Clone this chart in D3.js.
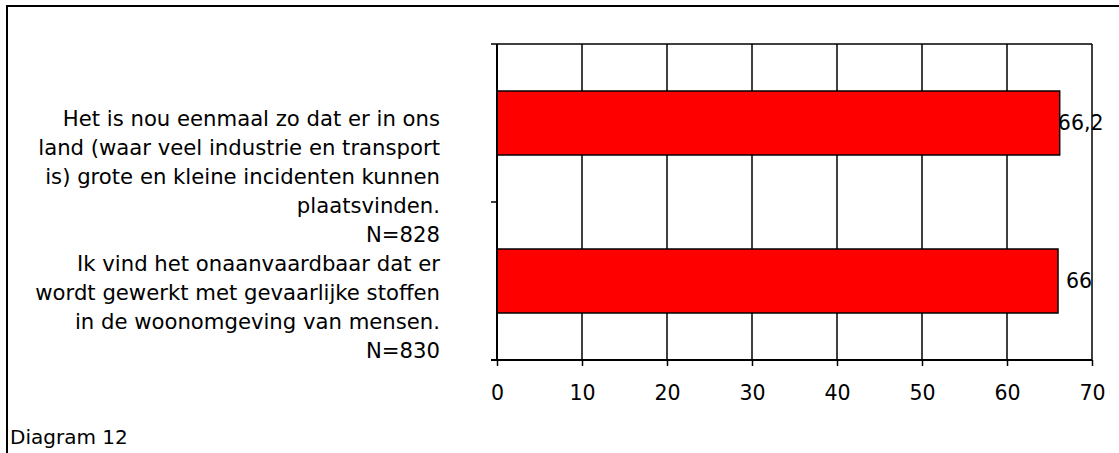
<!DOCTYPE html>
<html>
<head>
<meta charset="utf-8">
<script src="https://cdn.jsdelivr.net/npm/d3@7"></script>
<style>
    body { margin: 0; background: #fff; }
    svg { display: block; }
    text { font-family: "DejaVu Sans", Verdana, sans-serif; fill: #000; }
</style>
</head>
<body>
<svg id="svg" width="1119" height="453"></svg>
<script>
// categories, wrapped the way they appear next to the bars
var categories = ["stelling1", "stelling2"];
var category_lines = [
    ["Het is nou eenmaal zo dat er in ons",
     "land (waar veel industrie en transport",
     "is) grote en kleine incidenten kunnen",
     "plaatsvinden.",
     "N=828"],
    ["Ik vind het onaanvaardbaar dat er",
     "wordt gewerkt met gevaarlijke stoffen",
     "in de woonomgeving van mensen.",
     "N=830"]
];
var values = [66.2, 66];
var x_ticks = [0, 10, 20, 30, 40, 50, 60, 70];
var caption = "Diagram 12";

// dutch number format: comma as decimal separator
var nl = d3.formatLocale({decimal: ",", thousands: ".", grouping: [3], currency: ["€", ""]});
var fmt = nl.format("~g");

var font_size = "20.5px";

/**
 * draws the horizontal bar chart into the svg
 */
function draw_chart() {
    var svg = d3.select("svg"),
        margin = {top: 44, left: 497, right: 27, bottom: 93},
        width = +svg.attr("width") - margin.left - margin.right,
        height = +svg.attr("height") - margin.top - margin.bottom;

    // outer frame (right and bottom edges fall outside the picture)
    svg.append("path")
        .attr("d", "M7,460V6H1125")
        .attr("fill", "none")
        .attr("stroke", "#000")
        .attr("stroke-width", 2);

    var g = svg.append("g").attr("transform", "translate(" + margin.left + "," + margin.top + ")");

    var x = d3.scaleLinear()
        .domain([0, 70])
        .range([0, width]);

    var p = 0.595;
    var y = d3.scaleBand()
        .domain(categories)
        .range([0, height])
        .paddingInner(p)
        .paddingOuter(p / 2);

    // vertical grid lines
    g.selectAll(".grid")
        .data(x_ticks)
        .enter().append("line")
        .attr("class", "grid")
        .attr("x1", function (d) { return x(d); })
        .attr("x2", function (d) { return x(d); })
        .attr("y1", 0)
        .attr("y2", height)
        .attr("stroke", "#000")
        .attr("stroke-width", 1.5);

    // top edge of the plot area
    g.append("line")
        .attr("x1", 0).attr("x2", width)
        .attr("y1", 0).attr("y2", 0)
        .attr("stroke", "#000")
        .attr("stroke-width", 1.5);

    // bars
    g.selectAll(".bar")
        .data(values)
        .enter().append("rect")
        .attr("class", "bar")
        .attr("x", x(0))
        .attr("y", function (d, i) { return y(categories[i]); })
        .attr("width", function (d) { return x(d) - x(0); })
        .attr("height", y.bandwidth())
        .attr("fill", "#ff0000")
        .attr("stroke", "#000")
        .attr("stroke-width", 1.5);

    // value labels
    g.selectAll(".val")
        .data(values)
        .enter().append("text")
        .attr("class", "val")
        .attr("x", function (d) { return x(d) + 21; })
        .attr("y", function (d, i) { return y(categories[i]) + y.bandwidth() / 2; })
        .attr("dy", "0.35em")
        .attr("text-anchor", "middle")
        .style("font-size", font_size)
        .text(function (d) { return fmt(d); });

    // x axis
    var xa = g.append("g")
        .attr("transform", "translate(0," + height + ")")
        .call(d3.axisBottom(x).tickValues(x_ticks).tickSize(6).tickPadding(19).tickSizeOuter(0));
    xa.select(".domain").attr("stroke-width", 2).attr("d", "M-6,0H" + width);
    xa.selectAll(".tick line").attr("stroke-width", 1.5);
    xa.selectAll(".tick text")
        .style("font-size", font_size)
        .style("font-family", "DejaVu Sans, Verdana, sans-serif");

    // y axis: ticks at band boundaries, no labels
    var bounds = [0, y.step(), height];
    g.append("line")
        .attr("x1", 0).attr("x2", 0)
        .attr("y1", 0).attr("y2", height)
        .attr("stroke", "#000")
        .attr("stroke-width", 2);
    g.selectAll(".ytick")
        .data(bounds)
        .enter().append("line")
        .attr("class", "ytick")
        .attr("x1", -6).attr("x2", 0)
        .attr("y1", function (d) { return d; })
        .attr("y2", function (d) { return d; })
        .attr("stroke", "#000")
        .attr("stroke-width", 1.5);

    // category labels, right aligned left of the axis
    var block_shift = [54, 26];
    var line_h = 29;
    categories.forEach(function (c, i) {
        var lines = category_lines[i];
        var cy = y(c) + y.bandwidth() / 2 + block_shift[i];
        var top = cy - (lines.length - 1) * line_h / 2;
        g.append("text")
            .attr("text-anchor", "end")
            .style("font-size", "21.2px")
            .selectAll("tspan")
            .data(lines)
            .enter().append("tspan")
            .attr("x", -57)
            .attr("y", function (d, k) { return top + k * line_h; })
            .attr("dy", "0.35em")
            .text(function (d) { return d; });
    });

    // caption in the lower left corner
    svg.append("text")
        .attr("x", 10)
        .attr("y", 437)
        .attr("dy", "0.35em")
        .style("font-size", "20px")
        .text(caption);
}

window.onload = function () {
    draw_chart();
};
</script>
</body>
</html>
